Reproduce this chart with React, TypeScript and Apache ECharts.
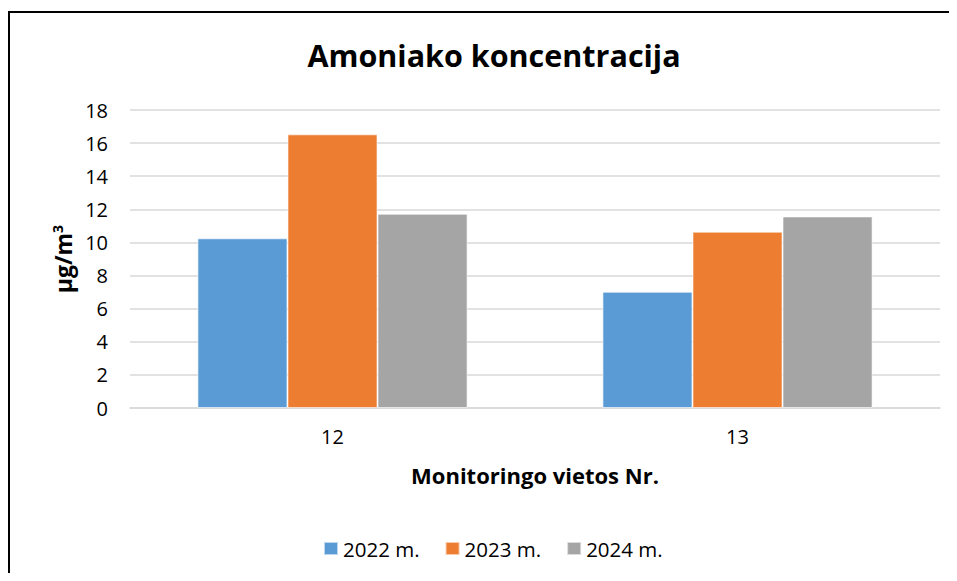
import React, { useEffect, useRef } from "react";
import * as echarts from "echarts";

const categories = ["12", "13"];
const seriesNames = ["2022 m.", "2023 m.", "2024 m."];
const values2022 = [10.25, 7.02];
const values2023 = [16.53, 10.65];
const values2024 = [11.73, 11.57];
const colors = ["#5B9BD5", "#ED7D31", "#A5A5A5"];
const yTicks = { min: 0, max: 18, interval: 2 };

const FONT = "'Open Sans', 'Liberation Sans', Arial, sans-serif";

export default function App() {
  const ref = useRef<HTMLDivElement>(null);
  useEffect(() => {
    if (!ref.current) return;
    const chart = echarts.init(ref.current, null, { renderer: "svg" });
    const data = [values2022, values2023, values2024];
    chart.setOption({
      animation: false,
      textStyle: { fontFamily: FONT },
      title: {
        text: "Amoniako koncentracija",
        left: 481,
        textAlign: "center",
        top: 26,
        textStyle: { fontFamily: FONT, fontSize: 30.5, fontWeight: "bold", color: "#000" },
      },
      legend: {
        left: 310,
        top: 525,
        itemWidth: 14,
        itemHeight: 13,
        itemGap: 25,
        icon: "rect",
        textStyle: { fontFamily: FONT, fontSize: 20.5, color: "#000" },
        data: seriesNames,
      },
      grid: { left: 122, right: 9, top: 102, bottom: 165, containLabel: false },
      xAxis: {
        type: "category",
        data: categories,
        name: "Monitoringo vietos Nr.",
        nameLocation: "middle",
        nameGap: 56,
        nameTextStyle: { fontFamily: FONT, fontSize: 22, fontWeight: "bold", color: "#000" },
        axisLine: { show: true, lineStyle: { color: "#D9D9D9", width: 1.5 } },
        axisTick: { show: false },
        axisLabel: { fontFamily: FONT, fontSize: 20, color: "#000", margin: 18 },
      },
      yAxis: {
        type: "value",
        min: yTicks.min,
        max: yTicks.max,
        interval: yTicks.interval,
        name: "{a|µg/m}{b|3}",
        nameLocation: "middle",
        nameGap: 46,
        nameRotate: 90,
        nameTextStyle: {
          fontFamily: FONT,
          fontSize: 22,
          fontWeight: "bold",
          color: "#000",
          rich: {
            a: { fontFamily: FONT, fontSize: 23, fontWeight: "bold", color: "#000" },
            b: { fontFamily: FONT, fontSize: 14, fontWeight: "bold", color: "#000", verticalAlign: "top", padding: [0, 0, 10, 0] },
          },
        },
        axisLine: { show: false },
        axisTick: { show: false },
        axisLabel: { fontFamily: FONT, fontSize: 20, color: "#000", margin: 22 },
        splitLine: { show: true, lineStyle: { color: "#D9D9D9", width: 1.5 } },
      },
      series: seriesNames.map((name, i) => ({
        name,
        type: "bar",
        data: data[i],
        barGap: "0%",
        barCategoryGap: "33.3%",
        itemStyle: { color: colors[i], borderColor: "rgba(255,255,255,0.6)", borderWidth: 1 },
      })),
    });
    return () => chart.dispose();
  }, []);
  return (
    <div style={{ position: "relative", width: 941, height: 565, background: "#fff" }}>
      <div ref={ref} style={{ position: "absolute", left: 0, top: 0, width: 941, height: 565 }} />
      <div
        style={{
          position: "absolute",
          left: 0,
          top: 3,
          width: 941,
          height: 562,
          borderTop: "2px solid #000",
          borderLeft: "2px solid #000",
          boxSizing: "border-box",
          pointerEvents: "none",
        }}
      />
    </div>
  );
}
